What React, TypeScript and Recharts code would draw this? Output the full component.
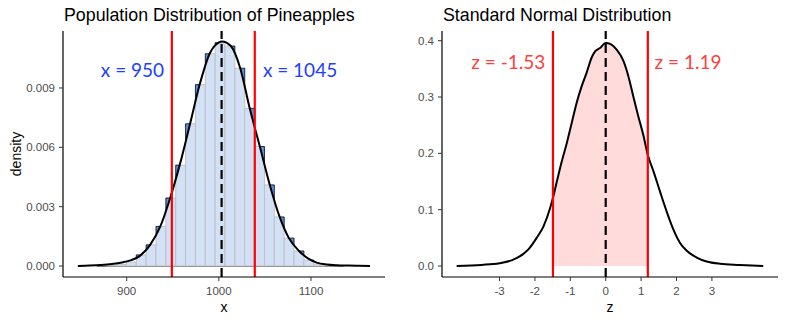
import React from 'react';
import {
  ComposedChart,
  XAxis,
  YAxis,
  Area,
  Line,
  ReferenceLine,
  ReferenceArea,
  ReferenceDot,
} from 'recharts';

// ---------- Left panel: population of pineapples ----------
const BIN_WIDTH = 10.7;
const binStarts = [
  867.6, 878.3, 889.0, 899.7, 910.4, 921.1, 931.8, 942.5, 953.2, 963.9, 974.6, 985.3, 996.0,
  1006.7, 1017.4, 1028.1, 1038.8, 1049.5, 1060.2, 1070.9, 1081.6, 1092.3, 1103.0, 1113.7, 1124.4,
];
const binDensity = [
  0.00001, 0.00003, 0.00008, 0.0002, 0.00056, 0.00107, 0.002, 0.00344, 0.0051, 0.00719, 0.00917,
  0.01073, 0.01129, 0.01112, 0.01, 0.00797, 0.00604, 0.0041, 0.00248, 0.00141, 0.00076, 0.0003,
  0.0001, 0.00004, 0.00002,
];
const pineCurveX = [
  847, 860, 872, 884, 895, 905, 914, 925.5, 936.5, 947.2, 957.5, 968.8, 979.2, 990, 999.7, 1003.5,
  1013, 1023.2, 1033.5, 1044.5, 1055.3, 1066, 1076, 1087, 1097.5, 1107, 1117, 1128, 1140, 1152,
  1164,
];
const pineCurveD = [
  0, 0.00002, 0.00005, 0.0001, 0.00018, 0.0003, 0.0005, 0.00107, 0.002, 0.00344, 0.0051, 0.00719,
  0.00917, 0.01073, 0.01129, 0.01135, 0.01112, 0.01, 0.00797, 0.00604, 0.0041, 0.00248, 0.00141,
  0.00076, 0.00036, 0.00016, 0.00008, 0.00004, 0.00002, 0.00001, 0,
];
const pineXTicks = [900, 1000, 1100];
const pineYTicks = [0, 0.003, 0.006, 0.009];
const pineLines = [949, 1039];
const pineMean = 1003;
const pineLabels = ['x = 950', 'x = 1045'];

// ---------- Right panel: standard normal ----------
const zCurveX = [
  -4.21, -3.5, -3.0, -2.66, -2.43, -2.19, -1.95, -1.76, -1.57, -1.49, -1.38, -1.24, -1.1, -0.96,
  -0.82, -0.68, -0.54, -0.39, -0.3, -0.16, 0.0, 0.03, 0.31, 0.5, 0.64, 0.78, 0.92, 1.06, 1.19, 1.35,
  1.53, 1.72, 1.91, 2.1, 2.29, 2.57, 2.85, 3.23, 3.79, 4.45,
];
const zCurveD = [
  0, 0.002, 0.005, 0.01, 0.017, 0.029, 0.05, 0.07, 0.103, 0.121, 0.15, 0.186, 0.218, 0.254, 0.29,
  0.319, 0.343, 0.371, 0.381, 0.387, 0.396, 0.396, 0.384, 0.364, 0.337, 0.301, 0.266, 0.233, 0.197,
  0.168, 0.133, 0.097, 0.065, 0.041, 0.027, 0.015, 0.008, 0.004, 0.002, 0,
];
const zXTicks = [-3, -2, -1, 0, 1, 2, 3];
const zYTicks = [0, 0.1, 0.2, 0.3, 0.4];
const zLines = [-1.49, 1.19];
const zMean = 0;
const zLabels = ['z = -1.53', 'z = 1.19'];

const pineCurve = pineCurveX.map((x, i) => ({ x, d: pineCurveD[i] }));
const zCurve = zCurveX.map((x, i) => ({ x, d: zCurveD[i] }));
const zShade = zCurve.filter((p) => p.x >= zLines[0] && p.x <= zLines[1]);

const FONT = '"Liberation Sans", Arial, sans-serif';
const tickStyle = { fill: '#4d4d4d', fontSize: 11.5, fontFamily: FONT };
const titleStyle: React.CSSProperties = {
  position: 'absolute',
  top: 7,
  fontFamily: FONT,
  fontSize: 17.8,
  lineHeight: '17.5px',
  color: '#000',
  whiteSpace: 'nowrap',
};

const W = 393;
const H = 322;

export default function App() {
  return (
    <div style={{ position: 'fixed', left: 0, top: 0, width: 786, height: 322, background: '#fff' }}>
      <div style={{ ...titleStyle, left: 64 }}>Population Distribution of Pineapples</div>
      <div style={{ ...titleStyle, left: 443 }}>Standard Normal Distribution</div>

      <div style={{ position: 'absolute', left: 0, top: 0 }}>
        <ComposedChart width={W} height={H} margin={{ top: 31, right: 8, bottom: 0, left: 0 }}>
          <XAxis
            type="number"
            dataKey="x"
            domain={[830.9, 1180.3]}
            ticks={pineXTicks}
            allowDataOverflow
            height={45}
            tickSize={4}
            tickMargin={6}
            axisLine={{ stroke: '#000', strokeWidth: 1.2 }}
            tickLine={{ stroke: '#333' }}
            tick={tickStyle}
            label={{ value: 'x', position: 'insideBottom', offset: 10, fill: '#000', fontSize: 14, fontFamily: FONT }}
          />
          <YAxis
            type="number"
            domain={[-0.000556, 0.01188]}
            ticks={pineYTicks}
            allowDataOverflow
            width={63}
            tickSize={4}
            tickMargin={4}
            tickFormatter={(v: number) => v.toFixed(3)}
            axisLine={{ stroke: '#000', strokeWidth: 1.2 }}
            tickLine={{ stroke: '#333' }}
            tick={tickStyle}
            label={{
              value: 'density',
              angle: -90,
              position: 'insideLeft',
              offset: 16,
              fill: '#000',
              fontSize: 14,
              fontFamily: FONT,
              style: { textAnchor: 'middle' },
            }}
          />
          {binStarts.map((s, i) => (
            <ReferenceArea
              key={'bin' + i}
              x1={s}
              x2={s + BIN_WIDTH}
              y1={0}
              y2={binDensity[i]}
              fill="#5f8fdf"
              fillOpacity={1}
              stroke="#000"
              strokeWidth={0.8}
              zIndex={50}
            />
          ))}
          <Area
            data={pineCurve}
            dataKey="d"
            type="monotone"
            fill="#ffffff"
            fillOpacity={0.73}
            stroke="none"
            isAnimationActive={false}
            zIndex={150}
          />
          <Line
            data={pineCurve}
            dataKey="d"
            type="monotone"
            stroke="#000"
            strokeWidth={2}
            dot={false}
            isAnimationActive={false}
            zIndex={400}
          />
          <ReferenceLine x={pineLines[0]} stroke="#ff0000" strokeWidth={2.2} zIndex={450} />
          <ReferenceLine x={pineLines[1]} stroke="#ff0000" strokeWidth={2.2} zIndex={450} />
          <ReferenceLine x={pineMean} stroke="#000" strokeWidth={2.2} strokeDasharray="9 5" zIndex={450} />
          <ReferenceDot
            x={906.3}
            y={0.00991}
            r={0}
            fill="none"
            stroke="none"
            zIndex={460}
            label={{ value: pineLabels[0], position: 'center', fill: '#1e40ff', fontSize: 19, fontFamily: 'Lato' }}
          />
          <ReferenceDot
            x={1088.1}
            y={0.00991}
            r={0}
            fill="none"
            stroke="none"
            zIndex={460}
            label={{ value: pineLabels[1], position: 'center', fill: '#1e40ff', fontSize: 19, fontFamily: 'Lato' }}
          />
        </ComposedChart>
      </div>

      <div style={{ position: 'absolute', left: W, top: 0 }}>
        <ComposedChart width={W} height={H} margin={{ top: 31, right: 8, bottom: 0, left: 0 }}>
          <XAxis
            type="number"
            dataKey="x"
            domain={[-4.624, 4.867]}
            ticks={zXTicks}
            allowDataOverflow
            height={45}
            tickSize={4}
            tickMargin={6}
            axisLine={{ stroke: '#000', strokeWidth: 1.2 }}
            tickLine={{ stroke: '#333' }}
            tick={tickStyle}
            label={{ value: 'z', position: 'insideBottom', offset: 10, fill: '#000', fontSize: 14, fontFamily: FONT }}
          />
          <YAxis
            type="number"
            domain={[-0.0195, 0.4172]}
            ticks={zYTicks}
            allowDataOverflow
            width={49}
            tickSize={4}
            tickMargin={4}
            tickFormatter={(v: number) => v.toFixed(1)}
            axisLine={{ stroke: '#000', strokeWidth: 1.2 }}
            tickLine={{ stroke: '#333' }}
            tick={tickStyle}
          />
          <Area
            data={zShade}
            dataKey="d"
            type="monotone"
            fill="#ff0000"
            fillOpacity={0.14}
            stroke="none"
            isAnimationActive={false}
            zIndex={150}
          />
          <Line
            data={zCurve}
            dataKey="d"
            type="monotone"
            stroke="#000"
            strokeWidth={2}
            dot={false}
            isAnimationActive={false}
            zIndex={400}
          />
          <ReferenceLine x={zLines[0]} stroke="#ff0000" strokeWidth={2.2} zIndex={450} />
          <ReferenceLine x={zLines[1]} stroke="#ff0000" strokeWidth={2.2} zIndex={450} />
          <ReferenceLine x={zMean} stroke="#000" strokeWidth={2.2} strokeDasharray="9 5" zIndex={450} />
          <ReferenceDot
            x={-2.75}
            y={0.3618}
            r={0}
            fill="none"
            stroke="none"
            zIndex={460}
            label={{ value: zLabels[0], position: 'center', fill: '#ff4040', fontSize: 19, fontFamily: 'Lato' }}
          />
          <ReferenceDot
            x={2.325}
            y={0.3618}
            r={0}
            fill="none"
            stroke="none"
            zIndex={460}
            label={{ value: zLabels[1], position: 'center', fill: '#ff4040', fontSize: 19, fontFamily: 'Lato' }}
          />
        </ComposedChart>
      </div>
    </div>
  );
}
